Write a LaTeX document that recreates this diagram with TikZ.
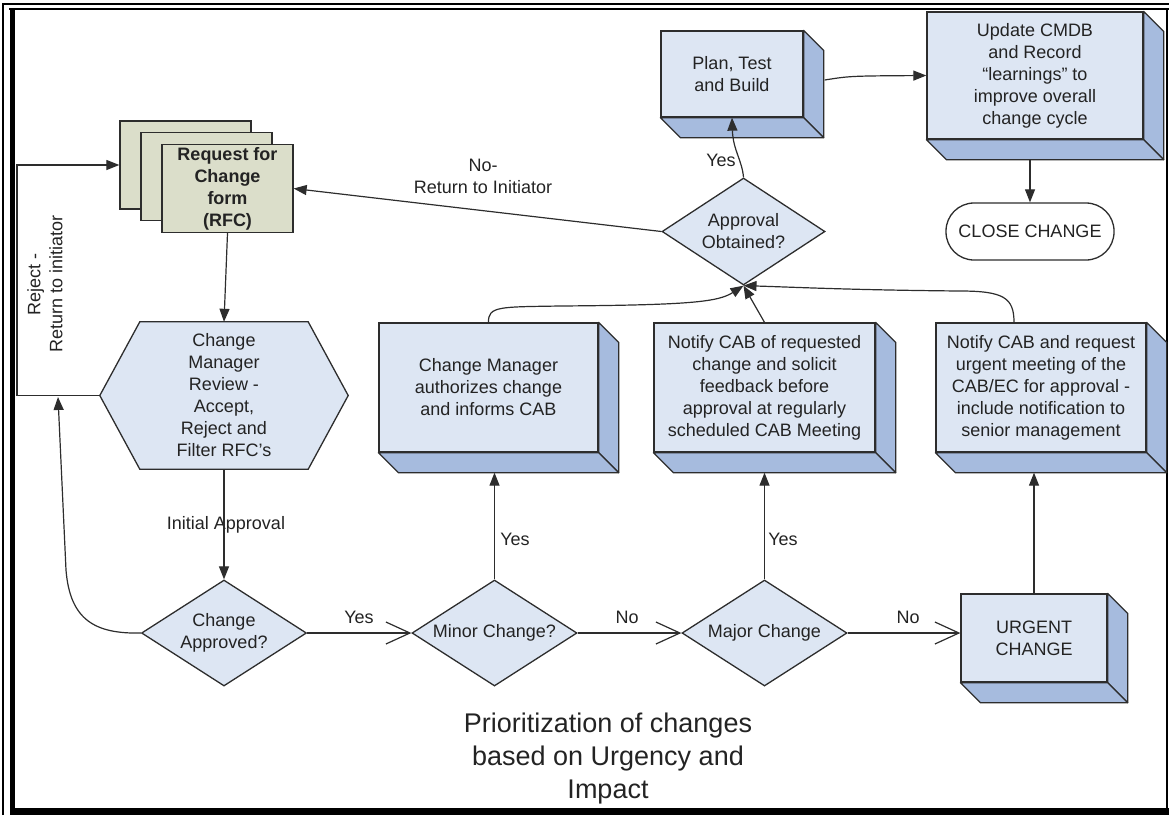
\documentclass[tikz,border=0pt]{standalone}
\usepackage{fontspec}
\setmainfont{Liberation Sans}
\usetikzlibrary{shapes.geometric,arrows.meta,backgrounds}
\definecolor{cubefront}{RGB}{221,230,243}
\definecolor{cubeshade}{RGB}{166,187,222}
\definecolor{rfcfill}{RGB}{219,222,202}
\definecolor{edgecol}{RGB}{45,45,45}
\definecolor{inkcol}{RGB}{35,35,35}
\newcommand{\boxfont}{\fontsize{18}{22}\selectfont}
\newcommand{\titlefont}{\fontsize{27}{33}\selectfont}
\newcommand{\cubeside}[1]{%
  \filldraw[cubeface] (#1.north east) -- ++(20,-20) -- ([shift={(20,-20)}]#1.south east) -- (#1.south east) -- cycle;
  \filldraw[cubeface] (#1.south west) -- (#1.south east) -- ([shift={(20,-20)}]#1.south east) -- ([shift={(20,-20)}]#1.south west) -- cycle;
  \coordinate (#1-base) at ([shift={(20,-20)}]#1.south);}
\tikzset{
  cube/.style={draw=edgecol, fill=cubefront, line width=1.3pt, align=center, inner sep=0pt, text=inkcol, font=\boxfont},
  cubeface/.style={draw=edgecol, fill=cubeshade, line width=1.3pt, line join=round},
  decision/.style={diamond, draw=edgecol, fill=cubefront, line width=1.3pt, align=center, inner sep=0pt, aspect=1.56, minimum width=165pt, minimum height=106pt, text=inkcol, font=\boxfont},
  rfcpage/.style={draw=edgecol, fill=rfcfill, line width=1.3pt, minimum width=131pt, minimum height=88pt, inner sep=0pt},
  flow/.style={draw=edgecol, line width=1.2pt, -{Triangle[length=13pt,width=10pt]}},
  branch/.style={draw=edgecol, line width=1.2pt, -{Straight Barb[length=24pt,width=22pt,line width=1.2pt]}},
  lbl/.style={text=inkcol, font=\boxfont, align=center, inner sep=0pt}
}
\begin{document}
\begin{tikzpicture}[x=1pt,y=1pt]
\useasboundingbox (0,0) rectangle (1169,-815);
\draw[line width=1.4pt] (3,-815) -- (3,-4) -- (1169,-4);
\draw[line width=1.4pt] (9,-9) -- (1169,-9);
\draw[line width=1.2pt] (1167,-9) -- (1167,-808);
\fill (10,-9) rectangle (15,-815);
\fill (10,-808) rectangle (1169,-815);

\node[rfcpage] (rfcb) at (185.5,-165) {};
\node[rfcpage] (rfcm) at (206.5,-176.5) {};
\node[rfcpage, font=\boxfont\bfseries, text=inkcol, align=center] (rfc) at (227.5,-188.5) {Request for\\Change\\form\\(RFC)};

\node[lbl, minimum width=248pt, minimum height=147pt] (cmr) at (224,-395.5) {Change\\Manager\\Review -\\Accept,\\Reject and\\Filter RFC's};
\begin{scope}[on background layer]
\filldraw[draw=edgecol, fill=cubefront, line width=1.3pt] (cmr.west) -- ([xshift=40pt]cmr.north west) -- ([xshift=-40pt]cmr.north east) -- (cmr.east) -- ([xshift=-40pt]cmr.south east) -- ([xshift=40pt]cmr.south west) -- cycle;
\end{scope}

\node[decision] (ca) at (224,-633) {Change\\Approved?};
\node[decision] (minor) at (494.5,-633) {Minor Change?};
\node[decision] (major) at (764.5,-633) {Major Change};
\node[decision, minimum width=163pt, minimum height=107pt] (apo) at (743.5,-231.5) {Approval\\Obtained?};

\node[cube, minimum width=219pt, minimum height=129pt] (auth) at (488.5,-387.5) {Change Manager\\authorizes change\\and informs CAB};
\node[cube, minimum width=221pt, minimum height=129pt] (notify) at (764.5,-387.5) {Notify CAB of requested\\change and solicit\\feedback before\\approval at regularly\\scheduled CAB Meeting};
\node[cube, minimum width=210pt, minimum height=129pt] (urgmeet) at (1041,-387.5) {Notify CAB and request\\urgent meeting of the\\CAB/EC for approval -\\include notification to\\senior management};
\node[cube, minimum width=146pt, minimum height=88pt] (urgent) at (1034,-638) {URGENT\\CHANGE};
\node[cube, minimum width=142pt, minimum height=86pt] (plan) at (732,-74) {Plan, Test\\and Build};
\node[cube, minimum width=216pt, minimum height=127pt] (cmdb) at (1035,-75.5) {Update CMDB\\and Record\\“learnings” to\\improve overall\\change cycle};
\node[draw=edgecol, line width=1.3pt, rounded corners=28pt, minimum width=168pt, minimum height=57pt, text=inkcol, font=\boxfont] (close) at (1030,-231.5) {CLOSE CHANGE};

\cubeside{auth}
\cubeside{notify}
\cubeside{urgmeet}
\cubeside{urgent}
\cubeside{plan}
\cubeside{cmdb}

\node[lbl] (lblinit) at (226,-525) {Initial Approval};
\node[lbl] (lblyes1) at (359,-617) {Yes};
\node[lbl] (lblno1) at (627,-617) {No};
\node[lbl] (lblno2) at (908,-617) {No};
\node[lbl] (lblyes2) at (515,-539) {Yes};
\node[lbl] (lblyes3) at (783,-539) {Yes};
\node[lbl] (lblyes4) at (721,-160) {Yes};
\node[lbl] (lblret) at (483,-176) {No-\\Return to Initiator};
\node[lbl, rotate=90] (lblrej) at (45,-284) {Reject -\\Return to initiator};
\node[text=inkcol, font=\titlefont, align=center] (title) at (608,-759) {Prioritization of changes\\based on Urgency and\\Impact};

\coordinate (rjb) at (17,-395.5);
\coordinate (rja) at (58,-397);
\draw[flow] (rfc.south) -- (cmr.north);
\draw[flow] (cmr.south) -- (ca.north);
\draw[flow] (cmr.west) -- (rjb) |- (rfcb.west);
\draw[flow] (ca.west) .. controls (95,-634) and (70,-620) .. (66,-570) -- (rja);
\draw[branch] (ca.east) -- (minor.west);
\draw[branch] (minor.east) -- (major.west);
\draw[branch] (major.east) -- (major.east -| urgent.west);
\draw[flow] (minor.north) -- (minor.north |- auth-base);
\draw[flow] (major.north) -- (major.north |- notify-base);
\draw[flow] (urgent.north) -- (urgent.north |- urgmeet-base);
\draw[flow] (auth.north) .. controls (488,-306) and (500,-307) .. (560,-306) .. controls (690,-305) and (718,-302) .. (apo.south);
\draw[flow] (notify.north) -- (apo.south);
\draw[flow] ([xshift=-27pt]urgmeet.north) .. controls (1014,-298) and (1004,-291) .. (960,-291) .. controls (850,-290) and (790,-287) .. (apo.south);
\draw[flow] (apo.west) -- (rfc.east);
\draw[flow] (apo.north) .. controls (742,-160) and (733,-150) .. (plan.south);
\draw[flow] ([shift={(21,-6)}]plan.east) .. controls (850,-76) .. (cmdb.west);
\draw[flow] (close.north |- cmdb-base) -- (close.north);
\end{tikzpicture}
\end{document}
